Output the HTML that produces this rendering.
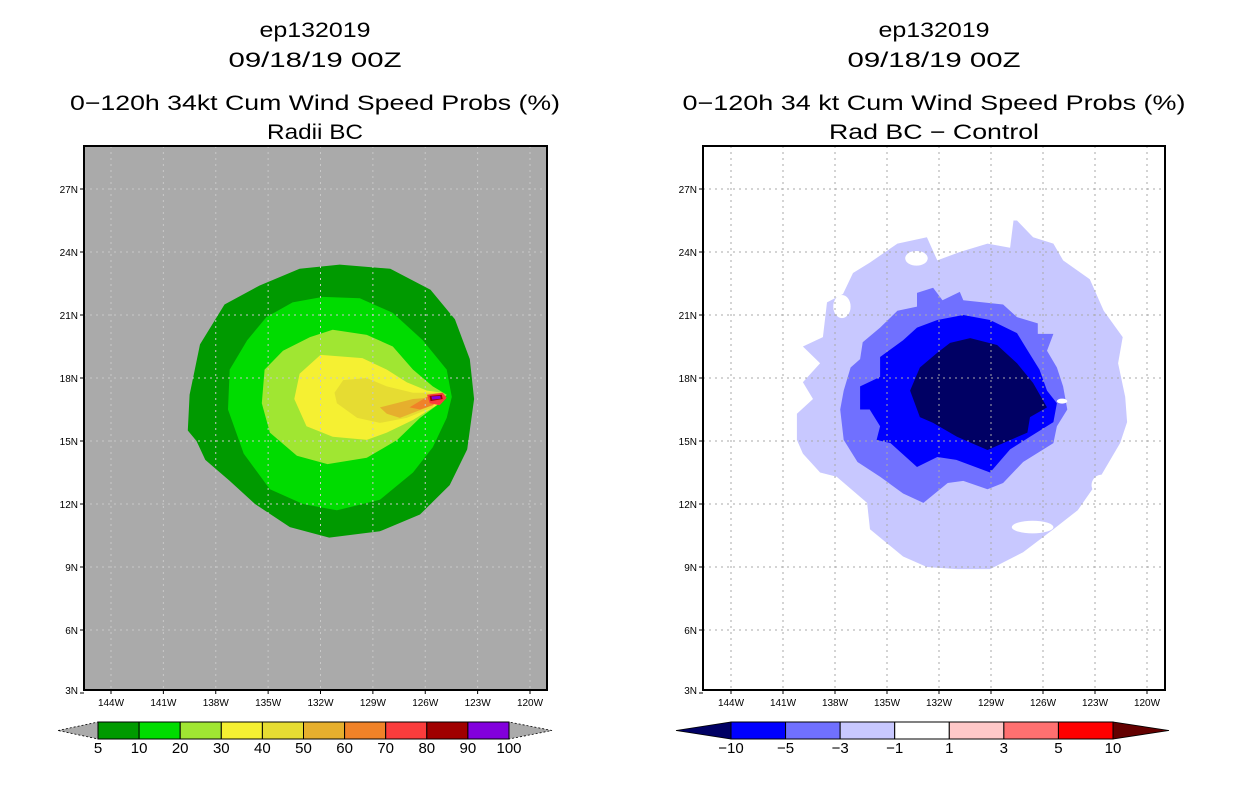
<!DOCTYPE html>
<html><head><meta charset="utf-8"><style>
html,body{margin:0;padding:0;background:#fff;}
svg{display:block;font-family:"Liberation Sans",sans-serif;}
</style></head><body>
<svg id="chart" width="1236" height="800" viewBox="0 0 1236 800" xmlns="http://www.w3.org/2000/svg">
<g id="left"></g>
<g id="right"></g>
</svg>
<script>
// ---------- data ----------
const lonTicks = [-144,-141,-138,-135,-132,-129,-126,-123,-120];
const latTicks = [3,6,9,12,15,18,21,24,27];
const leftLevels = ['5','10','20','30','40','50','60','70','80','90','100'];
const leftColors = ['#009a00','#00dc00','#a0e632','#f5f032','#e6dc32','#e6af2d','#f08228','#fa3c3c','#a00000','#8200dc'];
const rightLevels = ['-10','-5','-3','-1','1','3','5','10'];
const rightColors = ['#000064','#0000ff','#7070ff','#c8c8ff','#ffffff','#ffc8c8','#ff7070','#ff0000','#640000'];

// left contours [lon,lat]
const p5 = [[-130.9,23.4],[-128.0,23.2],[-125.7,22.2],[-124.3,20.8],[-123.45,18.9],[-123.2,17.0],[-123.6,14.6],[-124.6,12.9],[-126.3,11.5],[-128.6,10.7],[-131.5,10.4],[-133.75,10.9],[-135.75,12.0],[-137.2,13.1],[-138.6,14.1],[-139.1,15.0],[-139.6,15.5],[-139.5,17.2],[-138.9,19.6],[-137.5,21.5],[-135.5,22.4],[-133.2,23.2]];
const p10 = [[-131.86,21.86],[-129.75,21.8],[-127.86,21.1],[-126.14,19.8],[-124.77,18.4],[-124.48,17.1],[-124.77,16.1],[-125.57,14.7],[-126.7,13.5],[-128.6,12.2],[-131.06,11.7],[-133.0,12.0],[-134.9,12.7],[-136.4,14.4],[-137.3,16.5],[-137.2,18.4],[-136.2,19.8],[-135.1,20.9],[-133.6,21.6]];
const p20 = [[-131.3,20.3],[-129.35,20.05],[-127.86,19.5],[-126.7,18.4],[-125.57,17.6],[-124.77,17.2],[-125.17,16.8],[-126.3,16.1],[-127.6,15.05],[-129.35,14.2],[-131.6,13.9],[-133.35,14.3],[-134.9,15.4],[-135.36,16.8],[-135.2,18.4],[-134.15,19.3],[-132.6,19.95]];
const p30 = [[-132.0,19.1],[-129.6,18.95],[-128.2,18.4],[-127.06,17.8],[-125.9,17.4],[-125.0,17.3],[-125.17,16.8],[-126.7,16.0],[-128.2,15.4],[-129.35,15.05],[-131.3,15.2],[-132.8,15.7],[-133.5,17.0],[-133.2,18.2]];
const p40 = [[-130.7,17.9],[-129.35,18.0],[-128.2,17.6],[-126.7,17.3],[-125.17,17.3],[-125.57,16.6],[-127.06,16.1],[-128.6,15.86],[-129.9,16.1],[-131.06,16.8],[-131.2,17.3]];
const p50 = [[-128.6,16.6],[-126.7,17.0],[-125.17,17.1],[-125.9,16.6],[-127.45,16.1],[-128.2,16.3]];
const p60 = [[-126.9,16.6],[-125.9,17.1],[-125.0,17.2],[-125.57,16.7],[-126.3,16.5]];
const p70 = [[-125.9,17.2],[-125.0,17.3],[-124.77,17.05],[-125.17,16.7],[-125.74,16.8]];
const p80 = [[-125.75,17.15],[-125.05,17.2],[-125.0,17.0],[-125.7,16.9]];
const p90 = [[-125.65,17.12],[-125.15,17.15],[-125.1,17.02],[-125.6,16.97]];

// right contours
const r1 = [[-127.5,25.5],[-126.57,24.7],[-125.4,24.4],[-124.84,23.6],[-123.3,22.7],[-122.5,21.2],[-121.4,19.95],[-121.67,18.7],[-121.26,17.1],[-121.15,15.9],[-121.55,14.9],[-122.9,13.0],[-124.0,11.7],[-125.4,10.8],[-127.15,9.7],[-129.05,8.9],[-130.96,8.9],[-132.7,9.0],[-134.07,9.5],[-135.98,10.8],[-136.15,12.05],[-137.9,13.3],[-138.86,13.5],[-139.85,14.4],[-140.2,15.05],[-140.2,16.3],[-139.27,17.0],[-139.85,17.8],[-138.86,18.7],[-139.85,19.5],[-138.7,19.95],[-138.46,21.6],[-137.54,22.0],[-136.96,23.0],[-135.98,23.5],[-134.4,24.4],[-132.7,24.7],[-132.1,23.6],[-130.8,24.0],[-129.2,24.4],[-127.9,24.2],[-127.7,25.5]];
const r3 = [[-133.27,22.05],[-132.34,22.3],[-131.8,21.7],[-130.8,22.1],[-130.6,21.7],[-128.3,21.5],[-127.5,20.9],[-126.3,20.6],[-126.3,20.1],[-125.4,20.1],[-125.77,19.3],[-125.2,18.5],[-124.84,17.6],[-124.6,16.5],[-125.2,15.7],[-125.4,14.9],[-127.15,14.0],[-128.3,13.0],[-129.2,12.7],[-130.6,13.1],[-131.5,13.0],[-132.9,12.05],[-134.07,12.5],[-135.4,13.3],[-136.7,14.0],[-137.5,15.05],[-137.7,16.5],[-137.5,17.4],[-137.1,18.5],[-136.55,18.9],[-136.4,19.7],[-135.4,20.4],[-134.4,21.2],[-133.27,21.4]];
const r5 = [[-132.1,20.76],[-130.6,21.0],[-129.05,20.76],[-127.5,20.14],[-126.9,19.33],[-126.2,18.4],[-125.77,17.4],[-125.2,16.8],[-125.4,15.9],[-126.75,15.2],[-127.9,14.6],[-129.05,13.5],[-131.0,14.1],[-132.1,14.24],[-133.27,13.76],[-134.8,14.9],[-135.6,15.05],[-135.4,15.7],[-136.0,16.5],[-136.55,16.5],[-136.55,17.6],[-135.4,18.05],[-135.4,19.0],[-134.07,19.8],[-133.27,20.4]];
const r10 = [[-131.36,19.67],[-130.2,19.9],[-128.65,19.57],[-127.5,18.7],[-126.57,17.76],[-125.77,16.6],[-126.75,16.14],[-126.9,15.4],[-128.3,14.9],[-129.2,14.57],[-130.96,15.2],[-132.34,15.86],[-133.1,16.14],[-133.67,17.4],[-133.1,18.5],[-132.1,19.2]];
// white holes: center lon, lat, radius lon, radius lat
const holeLon = [-126.6,-122.6,-137.6,-133.3,-124.9];
const holeLat = [10.9,12.9,21.4,23.7,16.9];
const holeRx = [1.2,0.6,0.5,0.65,0.3];
const holeRy = [0.3,0.5,0.55,0.35,0.12];

// ---------- drawing ----------
const NS='http://www.w3.org/2000/svg';
function mk(parent,tag,attrs,txt){const e=document.createElementNS(NS,tag);for(const k in attrs)e.setAttribute(k,attrs[k]);if(txt!==undefined)e.textContent=txt;parent.appendChild(e);return e;}
function makeAxes(x144,x120){
  return {X:lon=>x144+(lon+144)/24*(x120-x144), Y:lat=>189+(27-lat)/3*63};
}
function pts(poly,ax){return poly.map(p=>ax.X(p[0]).toFixed(1)+','+ax.Y(p[1]).toFixed(1)).join(' ');}

function panel(g,fx0,fx1,x144,x120,bg,cx,titles,widths){
  const ax=makeAxes(x144,x120);
  const fy0=146,fy1=690;
  // titles
  const ty=[37,67,110,139];
  const names=['storm-id-title','date-title','main-title','subtitle'];
  titles.forEach((t,i)=>{
    const e=mk(g,'text',{x:cx,y:ty[i],'text-anchor':'middle','font-size':21,textLength:widths[i],lengthAdjust:'spacingAndGlyphs',fill:'#000'},t);
    
    
  });
  const bgr=mk(g,'rect',{x:fx0,y:fy0,width:fx1-fx0,height:fy1-fy0,fill:bg});
  
  
  const cp='clip'+fx0;
  const defs=mk(g,'defs',{});const c=mk(defs,'clipPath',{id:cp});mk(c,'rect',{x:fx0,y:fy0,width:fx1-fx0,height:fy1-fy0});
  const fill=mk(g,'g',{'clip-path':'url(#'+cp+')'});
  return {ax,fill,fy0,fy1};
}
function finish(g,P,fx0,fx1,gridCol){
  const ax=P.ax;
  const grid=mk(g,'g',{stroke:gridCol,'stroke-width':1,'stroke-dasharray':'2,4'});
  
  
  lonTicks.forEach(l=>{const x=ax.X(l);mk(grid,'line',{x1:x,y1:P.fy0,x2:x,y2:P.fy1});});
  latTicks.slice(1).forEach(l=>{const y=ax.Y(l);mk(grid,'line',{x1:fx0,y1:y,x2:fx1,y2:y});});
  const fr=mk(g,'rect',{x:fx0,y:P.fy0,width:fx1-fx0,height:P.fy1-P.fy0,fill:'none',stroke:'#000','stroke-width':2});
  
  
  lonTicks.forEach(l=>{
    const x=ax.X(l);
    mk(g,'line',{x1:x,y1:P.fy1,x2:x,y2:P.fy1+4,stroke:'#000'});
    const t=mk(g,'text',{x:x,y:706,'text-anchor':'middle','font-size':10,fill:'#000'},Math.abs(l)+'W');
    
    
  });
  latTicks.forEach(l=>{
    const y=ax.Y(l);
    mk(g,'line',{x1:fx0-4,y1:y,x2:fx0,y2:y,stroke:'#000'});
    const t=mk(g,'text',{x:fx0-6,y:Math.min(y,P.fy1)+4,'text-anchor':'end','font-size':10,fill:'#000'},l+'N');
    
    
  });
}
function colorbar(g,x0,x1,tl,tr,colors,levels,inner,leftTri,rightTri){
  const cb=mk(g,'g',{});
  
  
  const y0=722,y1=739,ym=730.5;
  const tri1=mk(cb,'polygon',{points:`${tl},${ym} ${x0},${y0} ${x0},${y1}`,fill:leftTri,stroke:'#000','stroke-width':0.8,'stroke-dasharray':leftTri==='#aaaaaa'?'2,2':''});
  
  
  const tri2=mk(cb,'polygon',{points:`${tr},${ym} ${x1},${y0} ${x1},${y1}`,fill:rightTri,stroke:'#000','stroke-width':0.8,'stroke-dasharray':rightTri==='#aaaaaa'?'2,2':''});
  
  
  const n=inner.length, w=(x1-x0)/n;
  inner.forEach((c,i)=>{
    const r=mk(cb,'rect',{x:x0+i*w,y:y0,width:w,height:y1-y0,fill:c,stroke:'#000','stroke-width':1});
    
    
  });
  levels.forEach((lv,i)=>{
    const t=mk(cb,'text',{x:x0+i*w,y:753,'text-anchor':'middle','font-size':15,fill:'#000'},lv.replace('-','\u2212'));
    
    
  });
}

// Left panel
const GL=document.getElementById('left');
const PL=panel(GL,84,547,111,530,'#aaaaaa',315,['ep132019','09/18/19 00Z','0\u2212120h 34kt Cum Wind Speed Probs (%)','Radii BC'],[111,173,490,96]);
[p5,p10,p20,p30,p40,p50,p60,p70,p80,p90].forEach((p,i)=>{
  const e=mk(PL.fill,'polygon',{points:pts(p,PL.ax),fill:leftColors[i]});
  
  
});
finish(GL,PL,84,547,'#c8c8c8');
colorbar(GL,98,509,58,552,leftColors,leftLevels,leftColors,'#aaaaaa','#aaaaaa');

// Right panel
const GR=document.getElementById('right');
const PR=panel(GR,703,1165,731,1147,'#ffffff',934,['ep132019','09/18/19 00Z','0\u2212120h 34 kt Cum Wind Speed Probs (%)','Rad BC \u2212 Control'],[111,173,503,210]);
[r1,r3,r5,r10].forEach((p,i)=>{
  const e=mk(PR.fill,'polygon',{points:pts(p,PR.ax),fill:rightColors[3-i]});
  
  
});
holeLon.forEach((l,i)=>{
  const ax=PR.ax;
  const e=mk(PR.fill,'ellipse',{cx:ax.X(l),cy:ax.Y(holeLat[i]),rx:holeRx[i]*17.33,ry:holeRy[i]*21,fill:'#ffffff'});
  
  
});
finish(GR,PR,703,1165,'#aaaaaa');
colorbar(GR,731,1113,676,1169,rightColors,rightLevels,rightColors.slice(1,8),'#000064','#640000');
</script>
</body></html>
